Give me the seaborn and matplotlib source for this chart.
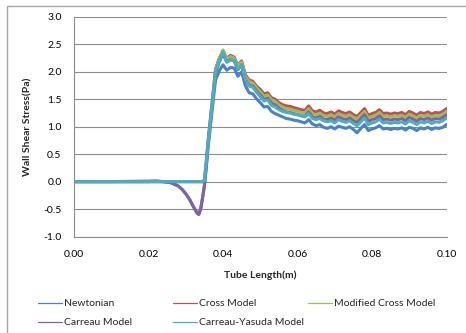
import numpy as np
import pandas as pd
import matplotlib
matplotlib.use('Agg')
import matplotlib.pyplot as plt
import seaborn as sns
from matplotlib.patches import Rectangle
from matplotlib.lines import Line2D

# tube length positions (m)
tube_length = [0.000, 0.010, 0.020, 0.022, 0.024, 0.026, 0.028, 0.029, 0.030, 0.031,
               0.032, 0.033, 0.0335, 0.034, 0.0345, 0.035, 0.0355,
               0.036, 0.037, 0.038, 0.039, 0.040, 0.041, 0.042, 0.043, 0.044, 0.045,
               0.046, 0.047, 0.048, 0.049, 0.050, 0.051, 0.052, 0.053, 0.054, 0.055,
               0.056, 0.057, 0.058, 0.059, 0.060, 0.061, 0.062, 0.063, 0.064, 0.065,
               0.066, 0.067, 0.068, 0.069, 0.070, 0.071, 0.072, 0.073, 0.074, 0.075,
               0.076, 0.077, 0.078, 0.079, 0.080, 0.081, 0.082, 0.083, 0.084, 0.085,
               0.086, 0.087, 0.088, 0.089, 0.090, 0.091, 0.092, 0.093, 0.094, 0.095,
               0.096, 0.097, 0.098, 0.099, 0.100]

newtonian = [0, 0, 0, 0.01, 0.0, -0.02, -0.08, -0.14, -0.22, -0.32,
             -0.45, -0.57, -0.59, -0.50, -0.30, -0.08, 0.26,
             0.62, 1.25, 1.85, 2.02, 2.13, 2.03, 2.08, 2.07, 1.92, 2.00,
             1.75, 1.62, 1.60, 1.51, 1.44, 1.36, 1.37, 1.28, 1.24, 1.21,
             1.18, 1.15, 1.14, 1.12, 1.11, 1.09, 1.07, 1.13, 1.05, 1.02,
             1.04, 0.99, 0.97, 1.00, 0.96, 1.01, 0.99, 0.97, 1.00, 0.95,
             0.89, 0.97, 1.04, 0.93, 0.96, 0.98, 1.02, 0.96, 0.97, 0.95,
             0.97, 0.96, 0.98, 0.94, 0.99, 0.97, 0.93, 0.98, 0.96, 0.99,
             0.95, 0.98, 0.97, 0.99, 1.04]

cross = [0, 0, 0, 0, 0, 0, 0, 0, 0, 0,
         0, 0, 0, 0, 0, 0.02, 0.36,
         0.75, 1.40, 2.05, 2.25, 2.38, 2.25, 2.30, 2.27, 2.12, 2.20,
         1.95, 1.85, 1.83, 1.74, 1.68, 1.60, 1.62, 1.53, 1.50, 1.44,
         1.40, 1.38, 1.37, 1.35, 1.33, 1.31, 1.30, 1.38, 1.29, 1.27,
         1.30, 1.25, 1.24, 1.27, 1.23, 1.29, 1.26, 1.24, 1.27, 1.22,
         1.19, 1.26, 1.33, 1.21, 1.24, 1.26, 1.31, 1.24, 1.25, 1.23,
         1.25, 1.24, 1.26, 1.22, 1.28, 1.25, 1.21, 1.26, 1.24, 1.27,
         1.23, 1.26, 1.25, 1.28, 1.33]

modified_cross = [0, 0, 0, 0, 0, 0, 0, 0, 0, 0,
                  0, 0, 0, 0, 0, 0.02, 0.34,
                  0.72, 1.38, 2.03, 2.24, 2.40, 2.24, 2.28, 2.25, 2.10, 2.18,
                  1.92, 1.82, 1.80, 1.71, 1.64, 1.56, 1.58, 1.49, 1.46, 1.40,
                  1.36, 1.33, 1.32, 1.30, 1.28, 1.26, 1.25, 1.33, 1.24, 1.22,
                  1.25, 1.20, 1.19, 1.22, 1.18, 1.24, 1.21, 1.19, 1.22, 1.17,
                  1.14, 1.21, 1.28, 1.16, 1.19, 1.21, 1.26, 1.19, 1.20, 1.18,
                  1.20, 1.19, 1.21, 1.17, 1.23, 1.20, 1.16, 1.21, 1.19, 1.22,
                  1.18, 1.21, 1.20, 1.23, 1.28]

carreau = [0, 0, 0.01, 0.01, 0.0, -0.02, -0.08, -0.14, -0.22, -0.32,
           -0.45, -0.57, -0.60, -0.50, -0.30, -0.08, 0.26,
           0.68, 1.33, 1.98, 2.18, 2.33, 2.18, 2.22, 2.20, 2.04, 2.12,
           1.86, 1.76, 1.74, 1.65, 1.58, 1.50, 1.52, 1.43, 1.40, 1.34,
           1.30, 1.27, 1.26, 1.24, 1.22, 1.20, 1.19, 1.27, 1.18, 1.16,
           1.19, 1.14, 1.13, 1.16, 1.12, 1.18, 1.15, 1.13, 1.16, 1.11,
           1.08, 1.15, 1.22, 1.10, 1.13, 1.15, 1.20, 1.13, 1.14, 1.12,
           1.14, 1.13, 1.15, 1.11, 1.17, 1.14, 1.10, 1.15, 1.13, 1.16,
           1.12, 1.15, 1.14, 1.17, 1.22]

carreau_yasuda = [0, 0, 0, 0, 0, 0, 0, 0, 0, 0,
                  0, 0, 0, 0, 0, 0.02, 0.33,
                  0.70, 1.35, 2.00, 2.20, 2.36, 2.18, 2.22, 2.21, 2.05, 2.13,
                  1.86, 1.74, 1.72, 1.63, 1.55, 1.47, 1.49, 1.39, 1.36, 1.31,
                  1.28, 1.26, 1.25, 1.23, 1.22, 1.20, 1.18, 1.24, 1.15, 1.13,
                  1.15, 1.11, 1.09, 1.11, 1.07, 1.13, 1.10, 1.08, 1.11, 1.06,
                  1.02, 1.09, 1.16, 1.04, 1.07, 1.09, 1.14, 1.07, 1.08, 1.06,
                  1.08, 1.07, 1.09, 1.05, 1.11, 1.08, 1.04, 1.09, 1.07, 1.10,
                  1.06, 1.09, 1.08, 1.11, 1.16]

models = ['Newtonian', 'Cross Model', 'Modified Cross Model', 'Carreau Model', 'Carreau-Yasuda Model']
colors = ['#4F81BD', '#C0504D', '#9BBB59', '#8064A2', '#4BACC6']
x_ticks = [0.00, 0.02, 0.04, 0.06, 0.08, 0.10]
y_ticks = [-1.0, -0.5, 0.0, 0.5, 1.0, 1.5, 2.0, 2.5, 3.0]

series = [newtonian, cross, modified_cross, carreau, carreau_yasuda]
frames = []
for name, vals in zip(models, series):
    frames.append(pd.DataFrame({'x': tube_length, 'y': vals, 'model': name}))
df = pd.concat(frames, ignore_index=True)

sns.set_style('white')
plt.rcParams['font.family'] = ['Lato', 'DejaVu Sans']

fig = plt.figure(figsize=(4.66, 3.33), dpi=100)
ax = fig.add_axes([74/466, 1 - 236.5/333, (446.5-74)/466, (236.5-17)/333])

sns.lineplot(data=df, x='x', y='y', hue='model', hue_order=models,
             palette=dict(zip(models, colors)), estimator=None, sort=False,
             lw=2.2, legend=False, ax=ax)

ax.set_xlim(0, 0.1)
ax.set_ylim(-1.0, 3.0)
ax.set_xticks(x_ticks)
ax.set_xticklabels(['%.2f' % t for t in x_ticks])
ax.set_yticks(y_ticks)
ax.set_yticklabels(['%.1f' % t for t in y_ticks])
ax.tick_params(length=0, labelsize=7.5, colors='black')
ax.tick_params(axis='y', pad=9)
ax.tick_params(axis='x', pad=10)
ax.grid(axis='y', color='#8C8C8C', lw=0.8)
ax.set_axisbelow(True)
for s in ['top', 'right']:
    ax.spines[s].set_visible(False)
for s in ['left', 'bottom']:
    ax.spines[s].set_color('#8C8C8C')
    ax.spines[s].set_linewidth(0.8)

ax.set_xlabel('Tube Length(m)', fontsize=7.5, fontweight='bold', labelpad=8)
ax.set_ylabel('Wall Shear Stress(Pa)', fontsize=7.5, fontweight='bold', labelpad=8)

# legend laid out in three columns like Excel
cols = [[0, 3], [1, 4], [2]]
col_x = [38, 173, 308]
for idx, cx in zip(cols, col_x):
    handles = [Line2D([], [], color=colors[i], lw=0.9) for i in idx]
    fig.legend(handles, [models[i] for i in idx],
               loc='upper left', bbox_to_anchor=(cx/466, 1 - 299/333),
               frameon=False, fontsize=7.5, handlelength=2.3, handletextpad=0.15,
               borderpad=0, borderaxespad=0, labelspacing=0.95)

fig.patches.append(Rectangle((7/466, -0.2), 1.2, 1.2 - 6/333, transform=fig.transFigure,
                             fill=False, edgecolor='#A6A6A6', lw=1.0))

plt.savefig('out.png', dpi=100)
plt.close()
